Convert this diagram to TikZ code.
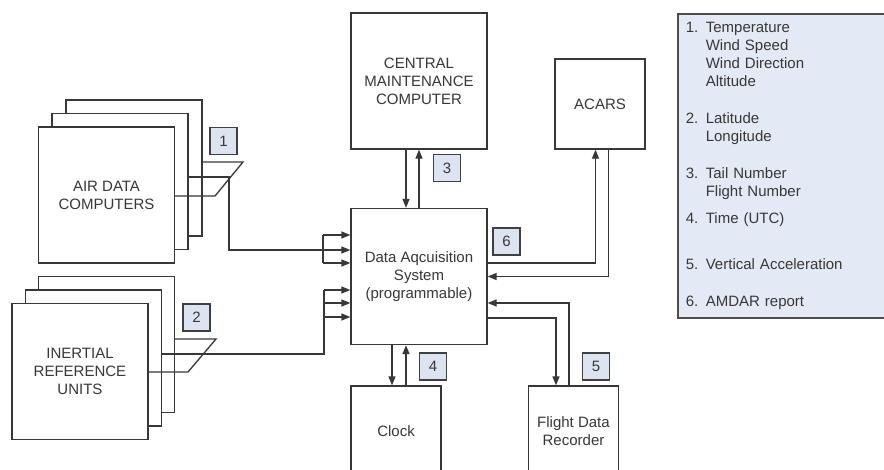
\documentclass[tikz,border=0pt]{standalone}
\usepackage{fontspec}
\setmainfont{Liberation Sans}
\usetikzlibrary{arrows.meta}
\definecolor{legblue}{RGB}{228,234,245}
\definecolor{tagblue}{RGB}{220,228,242}
\definecolor{ink}{RGB}{55,55,55}

\begin{document}
\begin{tikzpicture}[x=1pt, y=-1pt, font=\fontsize{15}{18}\selectfont, color=ink, line width=1.3pt,
  box/.style={draw, fill=white, align=center, inner sep=0pt, minimum width=#1, minimum height=#1},
  box/.default=136pt,
  tag/.style={draw=black!75, fill=tagblue, minimum size=27pt, inner sep=0pt},
  >={Triangle[length=9pt, width=7pt]}]
\useasboundingbox (0,0) rectangle (884,469);
\clip (0,0) rectangle (884,469);
\node[box] (adc3) at (134,168) {};
\node[box] (adc2) at (120,181.5) {};
\node[box] (adc) at (106.5,195) {AIR DATA\\COMPUTERS};
\node[box] (iru3) at (106.5,344.5) {};
\node[box] (iru2) at (93.5,358) {};
\node[box] (iru) at (80,371.5) {INERTIAL\\REFERENCE\\UNITS};
\node[box] (cmc) at (419,81) {CENTRAL\\MAINTENANCE\\COMPUTER};
\node[box] (das) at (419,276.5) {Data Aqcuisition\\System\\(programmable)};
\node[box=90pt] (acars) at (600,104) {ACARS};
\node[box=90pt] (clock) at (396,431) {Clock};
\node[box=90pt] (fdr) at (573.5,431) {Flight Data\\Recorder};
\node[tag] (t1) at (223.5,141) {1};
\node[tag] (t2) at (196.5,317.5) {2};
\node[tag] (t3) at (447,168) {3};
\node[tag] (t4) at (433,366.5) {4};
\node[tag] (t5) at (596,366.5) {5};
\node[tag] (t6) at (506.5,241.5) {6};
\node[draw=black!70, line width=1.6pt, fill=legblue, anchor=north west, align=left,
  text width=214pt, inner xsep=8pt, minimum height=304pt] (legend) at (677,13)
  {1. Temperature\\
   \hphantom{1. }Wind Speed\\
   \hphantom{1. }Wind Direction\\
   \hphantom{1. }Altitude\\[19pt]
   2. Latitude\\
   \hphantom{2. }Longitude\\[18.5pt]
   3. Tail Number\\
   \hphantom{3. }Flight Number\\[9.5pt]
   4. Time (UTC)\\[27.5pt]
   5. Vertical Acceleration\\[19pt]
   6. AMDAR report};
\coordinate (adctap) at (229,177);
\coordinate (adcbus) at (323,250);
\coordinate (irubus) at (324,354);
\draw (adc3.east |- 0,162) -- (243,162) -- (215,196) -- (adc.east |- 0,196);
\draw (adc2.east |- adctap) -- (adctap) |- (adcbus);
\draw (adcbus |- 0,235) -- (adcbus |- 0,263);
\foreach \y in {235,250,263} \draw[->] (adcbus |- 0,\y) -- (das.west |- 0,\y);
\draw (iru3.east |- 0,339) -- (216,339) -- (188,372) -- (iru.east |- 0,372);
\draw (iru2.east |- irubus) -- (irubus) -- (irubus |- 0,290);
\foreach \y in {290,303,317} \draw[->] (irubus |- 0,\y) -- (das.west |- 0,\y);
\draw[->] ([xshift=-13pt]cmc.south) -- ([xshift=-13pt]das.north);
\draw[->] (das.north) -- (cmc.south);
\draw[->] ([xshift=-27pt]das.south) -- ([xshift=-4pt]clock.north);
\draw[->] ([xshift=10pt]clock.north) -- ([xshift=-13pt]das.south);
\draw[->] ([yshift=13.5pt]das.east) -| ([xshift=-4.5pt]acars.south);
\draw[->] ([xshift=8.5pt]acars.south) |- (das.east);
\draw[->] ([yshift=-41.5pt]das.east) -| ([xshift=-17.5pt]fdr.north);
\draw[->] ([xshift=-4.5pt]fdr.north) |- ([yshift=-26.5pt]das.east);
\end{tikzpicture}
\end{document}
